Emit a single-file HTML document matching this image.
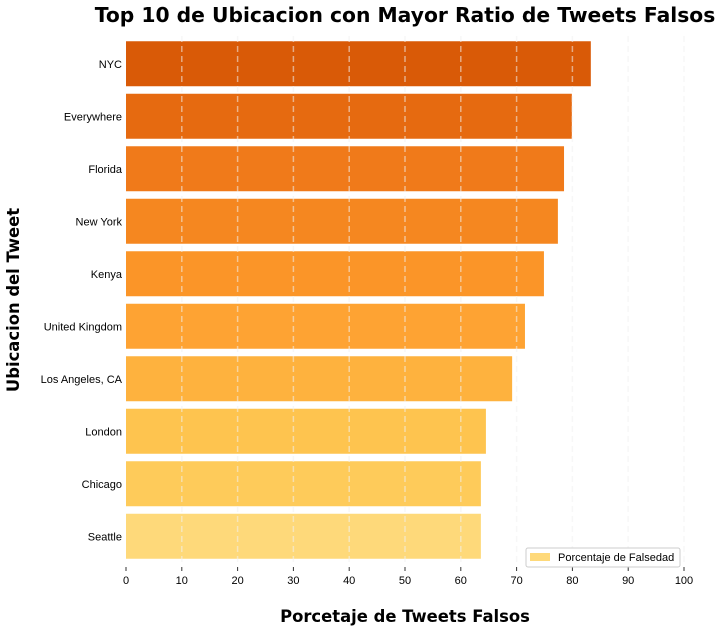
<!DOCTYPE html>
<html><head><meta charset="utf-8"><style>
html,body{margin:0;padding:0;background:#fff;}
svg{display:block;font-family:"DejaVu Sans","Liberation Sans",sans-serif;}
.tk{font-family:"Liberation Sans","DejaVu Sans",sans-serif;}
</style></head><body>
<svg id="chart" width="721" height="631">
<text x="405" y="22" text-anchor="middle" font-size="20.3" font-weight="bold" fill="#000">Top 10 de Ubicacion con Mayor Ratio de Tweets Falsos</text>
<text x="405" y="622" text-anchor="middle" font-size="16.4" font-weight="bold" fill="#000">Porcetaje de Tweets Falsos</text>
<text transform="translate(19,300) rotate(-90)" text-anchor="middle" font-size="16.4" font-weight="bold" fill="#000">Ubicacion del Tweet</text>
<g id="bars"></g>
<g id="grid"></g>
<g id="xticks"></g>
<g id="yticks"></g>
<g>
<rect x="526" y="548" width="154" height="19" fill="#fff" stroke="#ccc" rx="2"/>
<rect x="530" y="553" width="20" height="8" fill="#fed97a"/>
<text class="tk" x="558" y="561" font-size="11" fill="#000">Porcentaje de Falsedad</text>
</g>
</svg>
<script>
const categories = ["NYC","Everywhere","Florida","New York","Kenya","United Kingdom","Los Angeles, CA","London","Chicago","Seattle"];
const values = [83.3,79.9,78.5,77.4,74.9,71.5,69.2,64.5,63.6,63.6];
const xTickValues = [0,10,20,30,40,50,60,70,80,90,100];
const colors = ["#d95a07","#e66a10","#f07a1a","#f58720","#fb9528","#fea333","#feb23e","#fec44f","#fecb5a","#fed97a"];
const NS="http://www.w3.org/2000/svg";
const x0=126,x1=684,yTop=37.5,step=52.5,barH=45;
function xs(v){return x0+(v/100)*(x1-x0);}
function ys(i){return yTop+i*step+(step-barH)/2;}
const bars=document.getElementById('bars'),grid=document.getElementById('grid'),xt=document.getElementById('xticks'),yt=document.getElementById('yticks');
categories.forEach((c,i)=>{
 const r=document.createElementNS(NS,'rect');
 r.setAttribute('x',x0);r.setAttribute('y',ys(i));
 r.setAttribute('width',xs(values[i])-x0);r.setAttribute('height',barH);
 r.setAttribute('fill',colors[i]);
 
 
 bars.appendChild(r);
 const t=document.createElementNS(NS,'text');
 t.setAttribute('x',x0-4);t.setAttribute('y',ys(i)+barH/2+4);
 t.setAttribute('text-anchor','end');t.setAttribute('font-size','11');t.setAttribute('class','tk');
 t.textContent=c;
 
 
 yt.appendChild(t);
});
xTickValues.forEach(v=>{
 const x=xs(v);
 if(v>0){
 const l=document.createElementNS(NS,'line');
 l.setAttribute('x1',x);l.setAttribute('x2',x);l.setAttribute('y1',36);l.setAttribute('y2',565);
 l.setAttribute('stroke','#f0f0f0');l.setAttribute('stroke-opacity','0.55');l.setAttribute('stroke-width','1.5');l.setAttribute('stroke-dasharray','6,4');
 
 
 grid.appendChild(l);}
 const tk=document.createElementNS(NS,'line');
 tk.setAttribute('x1',x);tk.setAttribute('x2',x);tk.setAttribute('y1',567);tk.setAttribute('y2',571);
 tk.setAttribute('stroke','#333');
 
 
 xt.appendChild(tk);
 const t=document.createElementNS(NS,'text');
 t.setAttribute('x',x);t.setAttribute('y',584);t.setAttribute('text-anchor','middle');t.setAttribute('font-size','11');t.setAttribute('class','tk');
 t.textContent=v;
 
 
 xt.appendChild(t);
});
</script>
</body></html>
